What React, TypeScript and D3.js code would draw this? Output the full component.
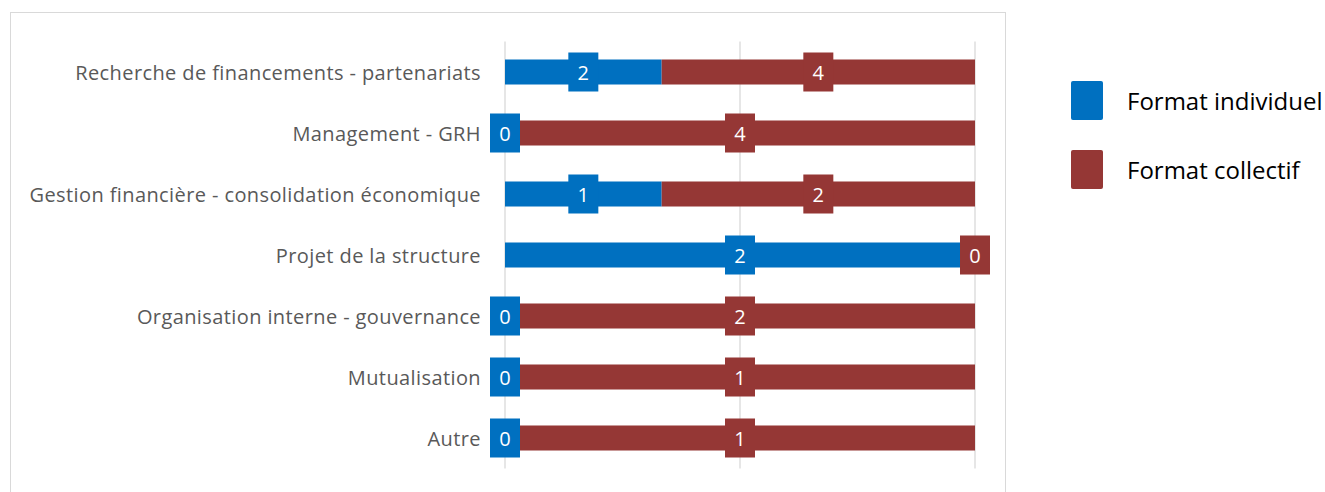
import React from 'react';
import * as d3 from 'd3';

// categories, top to bottom
const categories = [
  'Recherche de financements - partenariats',
  'Management - GRH',
  'Gestion financière - consolidation économique',
  'Projet de la structure',
  'Organisation interne - gouvernance',
  'Mutualisation',
  'Autre',
];
const seriesNames = ['Format individuel', 'Format collectif'];
const individuel = [2, 0, 1, 2, 0, 0, 0];
const collectif = [4, 4, 2, 0, 2, 1, 1];
const colors = ['#0070C0', '#953735'];

const W = 1325;
const H = 492;

export default function App() {
  const rows = categories.map((c, i) => ({ cat: c, a: individuel[i], b: collectif[i] }));

  // 100% stacked
  const stack = d3.stack().keys(['a', 'b']).offset(d3.stackOffsetExpand);
  const series = stack(rows as any);

  const x = d3.scaleLinear().domain([0, 1]).range([505, 975]);
  const y = d3
    .scaleBand()
    .domain(categories)
    .range([41.5, 468.5])
    .paddingInner(0.59)
    .paddingOuter(0.295);

  const font = '"Open Sans", sans-serif';
  const bh = y.bandwidth();
  const boxW = 30;
  const boxH = 39;

  return (
    <div style={{ position: 'absolute', left: 0, top: 0 }}>
      <svg width={W} height={H} style={{ display: 'block', background: '#fff' }}>
        {/* chart frame */}
        <rect x={10.5} y={12.5} width={995} height={500} fill="none" stroke="#d9d9d9" strokeWidth={1} />

        {/* gridlines */}
        {x.ticks(2).map((t) => (
          <line key={t} x1={x(t)} x2={x(t)} y1={41.5} y2={468.5} stroke="#d9d9d9" strokeWidth={1.3} />
        ))}

        {/* category labels */}
        {categories.map((c) => (
          <text
            key={c}
            x={481}
            y={(y(c) as number) + bh / 2}
            textAnchor="end"
            dominantBaseline="central"
            fontFamily={font}
            fontSize={20}
            letterSpacing={0.4}
            fill="#595959"
          >
            {c}
          </text>
        ))}

        {/* bars */}
        {series.map((s, si) => (
          <g key={si} fill={colors[si]}>
            {s.map((d: any, i) => (
              <rect
                key={i}
                x={x(d[0])}
                y={y(categories[i]) as number}
                width={Math.max(0, x(d[1]) - x(d[0]))}
                height={bh}
              />
            ))}
          </g>
        ))}

        {/* data labels */}
        {series.map((s, si) => (
          <g key={'l' + si}>
            {s.map((d: any, i) => {
              const cx = (x(d[0]) + x(d[1])) / 2;
              const cy = (y(categories[i]) as number) + bh / 2;
              const v = si === 0 ? individuel[i] : collectif[i];
              return (
                <g key={i}>
                  <rect x={cx - boxW / 2} y={cy - boxH / 2} width={boxW} height={boxH} fill={colors[si]} />
                  <text
                    x={cx}
                    y={cy}
                    textAnchor="middle"
                    dominantBaseline="central"
                    fontFamily={font}
                    fontSize={20}
                    fill="#fff"
                  >
                    {v}
                  </text>
                </g>
              );
            })}
          </g>
        ))}

        {/* legend */}
        {seriesNames.map((n, i) => (
          <g key={n} transform={`translate(1071, ${81 + i * 69})`}>
            <rect width={32} height={39} rx={2} fill={colors[i]} />
            <text x={56} y={19.5} dominantBaseline="central" fontFamily={font} fontSize={24} fill="#000">
              {n}
            </text>
          </g>
        ))}
      </svg>
    </div>
  );
}
